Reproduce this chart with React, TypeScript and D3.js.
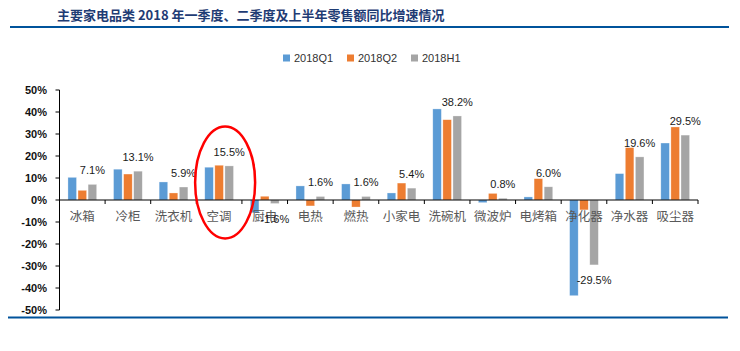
import React from "react";
import * as d3 from "d3";

const categories = ["冰箱", "冷柜", "洗衣机", "空调", "厨电", "电热", "燃热", "小家电", "洗碗机", "微波炉", "电烤箱", "净化器", "净水器", "吸尘器"];
const seriesNames = ["2018Q1", "2018Q2", "2018H1"];
const q1 = [10.3, 14.0, 8.2, 14.9, -5.8, 6.4, 7.3, 3.2, 41.4, -1.2, 1.4, -43.5, 12.0, 25.9];
const q2 = [4.4, 11.8, 3.2, 15.8, 1.7, -2.7, -3.2, 7.7, 36.5, 3.0, 9.7, -4.5, 23.8, 33.2];
const h1 = [7.1, 13.1, 5.9, 15.5, -1.6, 1.6, 1.6, 5.4, 38.2, 0.8, 6.0, -29.5, 19.6, 29.5];
const yTicks = [50, 40, 30, 20, 10, 0, -10, -20, -30, -40, -50];
const colors = ["#5B9BD5", "#ED7D31", "#A5A5A5"];
const highlight = "空调";

const W = 740;
const H = 351;
const numFont = "'Liberation Sans', Arial, sans-serif";
const cjkFont = "'Noto Sans CJK SC', sans-serif";

export default function App() {
  const series = [q1, q2, h1];

  const y = d3.scaleLinear().domain([-50, 50]).range([310, 90]);
  const x = d3.scaleBand<string>().domain(categories).range([59.5, 698]).padding(0);
  const bw = x.bandwidth();
  const xs = d3.scaleBand<string>().domain(seriesNames).range([bw * 0.185, bw * 0.815]).paddingInner(0.15);

  const legendX = d3.scalePoint<string>().domain(seriesNames).range([283, 411]);

  const hx = (x(highlight) ?? 0) + bw / 2 + 6;

  return (
    <svg width={W} height={H} style={{ position: "absolute", left: 0, top: 0, background: "#fff" }}>
      {/* title */}
      <text x={57} y={20} fontFamily={cjkFont} fontWeight="bold" fontSize={13} fill="#1F3C74">
        主要家电品类 2018 年一季度、二季度及上半年零售额同比增速情况
      </text>
      <line x1={10} x2={729} y1={27} y2={27} stroke="#00539B" strokeWidth={2} />
      <line x1={8} x2={728} y1={317.5} y2={317.5} stroke="#00539B" strokeWidth={2} />

      {/* legend */}
      {seriesNames.map((s, i) => (
        <g key={s} transform={`translate(${legendX(s)},0)`}>
          <rect x={0} y={54.5} width={7} height={7} fill={colors[i]} />
          <text x={11} y={62} fontFamily={numFont} fontSize={11} fill="#333">{s}</text>
        </g>
      ))}

      {/* y axis */}
      <line x1={59.5} x2={59.5} y1={y(50)} y2={y(-50)} stroke="#000" />
      {yTicks.map((t) => (
        <g key={t}>
          <line x1={55.5} x2={59.5} y1={y(t)} y2={y(t)} stroke="#000" />
          <text x={47} y={y(t) + 4} textAnchor="end" fontFamily={numFont} fontWeight="bold" fontSize={11} fill="#111">
            {t}%
          </text>
        </g>
      ))}

      {/* bars */}
      {categories.map((c, ci) => (
        <g key={c} transform={`translate(${x(c)},0)`}>
          {series.map((vals, si) => {
            const v = vals[ci];
            return (
              <rect
                key={si}
                x={xs(seriesNames[si])}
                width={xs.bandwidth()}
                y={y(Math.max(0, v))}
                height={Math.abs(y(v) - y(0))}
                fill={colors[si]}
                stroke="#fff"
                strokeOpacity={0.5}
                strokeWidth={0.6}
              />
            );
          })}
        </g>
      ))}

      {/* zero axis */}
      <line x1={59.5} x2={698} y1={y(0)} y2={y(0)} stroke="#000" />
      {[...categories.map((c) => x(c) ?? 0), 698].map((px, i) => (
        <line key={i} x1={px} x2={px} y1={y(0)} y2={y(0) + 4} stroke="#000" />
      ))}

      {/* category labels */}
      {categories.map((c) => (
        <text key={c} x={(x(c) ?? 0) + bw / 2} y={221} textAnchor="middle" fontFamily={cjkFont} fontSize={12.5} fill="#595959">
          {c}
        </text>
      ))}

      {/* H1 value labels */}
      {categories.map((c, ci) => {
        const v = h1[ci];
        const cx = (x(c) ?? 0) + (xs(seriesNames[2]) ?? 0) + xs.bandwidth() / 2;
        const ty = v >= 0 ? y(v) - 10 : y(v) + 19;
        return (
          <text key={c} x={cx} y={ty} textAnchor="middle" fontFamily={numFont} fontSize={11} fill="#1a1a1a">
            {v.toFixed(1)}%
          </text>
        );
      })}

      {/* highlight ellipse */}
      <ellipse cx={hx} cy={y(8)} rx={30} ry={56} fill="none" stroke="#FF0000" strokeWidth={2.5} />
    </svg>
  );
}
